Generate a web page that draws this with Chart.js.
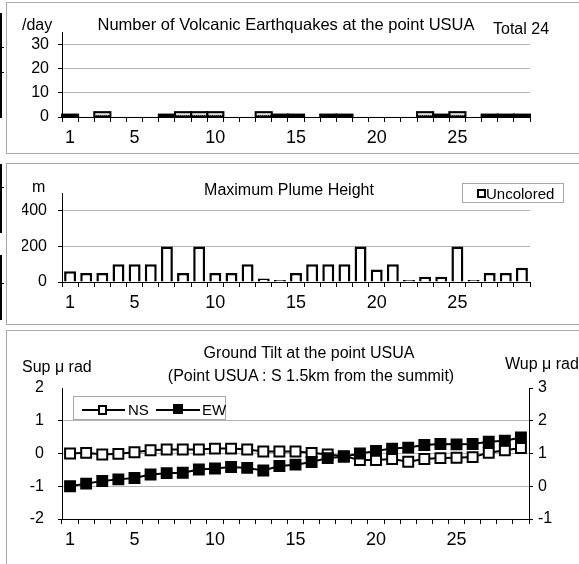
<!DOCTYPE html>
<html>
<head>
<meta charset="utf-8">
<title>USUA</title>
<script src="https://cdn.jsdelivr.net/npm/chart.js@4.4.1/dist/chart.umd.min.js"></script>
<style>
  body { margin:0; width:579px; height:564px; overflow:hidden; background:#fff; position:relative;
         font-family:"Liberation Sans", Arial, sans-serif; color:#000; }
  .panel { position:absolute; left:6px; width:590px; box-sizing:border-box; border:1px solid #a8a8a8; }
  .cut { position:absolute; left:0; width:2px; background:#000; }
  .nub { position:absolute; left:0; width:4px; height:1px; background:#000; }
  canvas { position:absolute; left:0; }
  .t { position:absolute; white-space:nowrap; font-size:16px; line-height:16px; }
  .c { transform:translateX(-50%); }
  .lg { position:absolute; background:#fff; border:1px solid #a8a8a8; box-sizing:border-box; font-size:15px; line-height:15px; }
  .lg span { position:absolute; }
</style>
</head>
<body>
<div class="panel" style="top:2px;height:152px"></div>
<div class="panel" style="top:163px;height:162px"></div>
<div class="panel" style="top:330px;height:250px"></div>

<div class="cut" style="top:13px;height:105px"></div>
<div class="nub" style="top:47px"></div>
<div class="nub" style="top:72px"></div>
<div class="cut" style="top:164px;height:69px"></div>
<div class="nub" style="top:187px"></div>
<div class="cut" style="top:255px;height:65px"></div>
<div class="nub" style="top:283px"></div>

<canvas id="quakes" width="579" height="160" style="top:0"></canvas>
<canvas id="plume" width="579" height="165" style="top:160px"></canvas>
<canvas id="tilt" width="579" height="239" style="top:325px"></canvas>

<div class="t" style="left:22px;top:17px">/day</div>
<div class="t c" style="left:286px;top:16px;font-size:16.5px">Number of Volcanic Earthquakes at the point USUA</div>
<div class="t" style="left:493px;top:21px">Total 24</div>

<div class="t" style="left:32px;top:179px">m</div>
<div class="t c" style="left:289px;top:182px">Maximum Plume Height</div>
<div class="lg" style="left:462px;top:183px;width:102px;height:20px">
  <span style="left:14px;top:5px;width:5px;height:5px;border:2px solid #000"></span>
  <span style="left:23px;top:2px">Uncolored</span>
</div>

<div class="t" style="left:22px;top:359px">Sup μ rad</div>
<div class="t" style="left:505px;top:356px">Wup μ rad</div>
<div class="t c" style="left:309px;top:345px">Ground Tilt at the point USUA</div>
<div class="t c" style="left:311px;top:368px">(Point USUA : S 1.5km from the summit)</div>
<div class="lg" style="left:73px;top:396px;width:153px;height:24px">
  <span style="left:8px;top:12px;width:43px;height:2px;background:#000"></span>
  <span style="left:24px;top:8px;width:5px;height:6px;border:2px solid #000;background:#fff"></span>
  <span style="left:54px;top:5px">NS</span>
  <span style="left:82px;top:12px;width:44px;height:2px;background:#000"></span>
  <span style="left:99px;top:7px;width:10px;height:10px;background:#000"></span>
  <span style="left:128px;top:5px">EW</span>
</div>

<script>
// days of the month
const days = [1,2,3,4,5,6,7,8,9,10,11,12,13,14,15,16,17,18,19,20,21,22,23,24,25,26,27,28,29];
const shownDays = [1,5,10,15,20,25];

// earthquakes per day
const quakeCounts = [1,0,2,0,0,0,1,2,2,2,0,0,2,1,1,0,1,1,0,0,0,0,2,1,2,0,1,1,1];

// plume height (m)
const plumeHeights = [60,50,50,100,100,100,200,50,200,50,50,100,20,0,50,100,100,100,200,70,100,0,30,30,200,0,50,50,80];

// tilt (micro radian)
const nsTilt = [0.0,0.02,-0.03,-0.01,0.04,0.1,0.12,0.12,0.12,0.15,0.15,0.12,0.06,0.06,0.06,0.02,-0.03,-0.08,-0.2,-0.2,-0.17,-0.25,-0.17,-0.14,-0.13,-0.11,0.02,0.1,0.17];
const ewTilt = [0.0,0.08,0.16,0.21,0.25,0.36,0.4,0.41,0.51,0.54,0.59,0.56,0.48,0.62,0.66,0.74,0.86,0.9,1.0,1.08,1.15,1.18,1.26,1.29,1.28,1.29,1.36,1.39,1.49];

Chart.defaults.font.family = '"Liberation Sans", Arial, sans-serif';
Chart.defaults.color = '#000';

const GRID = '#b4b4b4';

// x axis shared by the three panels
function dayAxis() {
    return {
        offset: true,
        grid: { offset: true, drawOnChartArea: false, tickLength: 5, tickColor: '#000' },
        border: { color: '#000', width: 1 },
        ticks: {
            autoSkip: false, maxRotation: 0, padding: 5, font: { size: 18 },
            callback: (v, i) => shownDays.includes(days[i]) ? String(days[i]) : ''
        },
        afterFit: s => { s.height = 30 }
    }
}

// left value axis, labels and grid only every `labelStep`
function valueAxis(min, max, step, labelStep, pad) {
    return {
        min: min, max: max,
        border: { color: '#000', width: 1 },
        ticks: {
            stepSize: step, padding: pad, font: { size: 16 },
            callback: v => (v % labelStep === 0) ? v : ''
        },
        grid: {
            tickLength: 4,
            color: c => (c.tick && c.tick.value % labelStep === 0 && c.tick.value > min && c.tick.value < max) ? GRID : 'transparent',
            tickColor: c => (c.tick && c.tick.value < max) ? '#000' : 'transparent'
        },
        afterFit: s => { s.width = 40 }
    }
}

// hatch fill for the earthquake bars
const pat = document.createElement('canvas')
pat.width = 4; pat.height = 3
const pc = pat.getContext('2d')
pc.fillStyle = '#dcdcdc'; pc.fillRect(0, 0, 4, 3)
pc.fillStyle = '#555'; pc.fillRect(0, 1, 1, 1); pc.fillRect(2, 1, 1, 1)
const hatch = pc.createPattern(pat, 'repeat')

// excel style outline, stroked on the bar edges
const outline = {
    id: 'outline',
    afterDatasetsDraw(chart) {
        const ctx = chart.ctx
        ctx.save()
        ctx.strokeStyle = '#000'
        ctx.lineWidth = 2
        chart.getDatasetMeta(0).data.forEach(bar => {
            const p = bar.getProps(['x', 'y', 'base', 'width'], true)
            if (p.base - p.y < 0.5) return
            ctx.strokeRect(p.x - p.width / 2, p.y, p.width, p.base - p.y)
        })
        ctx.restore()
    }
}

const base = { responsive: false, animation: false, events: [],
    plugins: { legend: { display: false }, tooltip: { enabled: false } } }

// number of earthquakes
new Chart(document.querySelector('#quakes'), {
    type: 'bar',
    data: {
        labels: days,
        datasets: [{
            data: quakeCounts,
            backgroundColor: hatch,
            borderWidth: 0,
            barPercentage: 1, categoryPercentage: 1
        }]
    },
    options: Object.assign({}, base, {
        layout: { padding: { left: 22, right: 49, top: 32, bottom: 13 } },
        scales: { x: dayAxis(), y: valueAxis(0, 35, 5, 10, 9) }
    }),
    plugins: [outline]
})

// plume height
new Chart(document.querySelector('#plume'), {
    type: 'bar',
    data: {
        labels: days,
        datasets: [{
            data: plumeHeights,
            backgroundColor: '#fff',
            borderColor: '#000',
            borderWidth: 2.5,
            inflateAmount: 0,
            minBarLength: 2,
            barPercentage: 0.74, categoryPercentage: 1
        }]
    },
    options: Object.assign({}, base, {
        layout: { padding: { left: 22, right: 49, top: 33, bottom: 13 } },
        scales: { x: dayAxis(), y: valueAxis(0, 500, 100, 200, 11) }
    })
})

// ground tilt, NS on the left axis and EW on the right one
const leftTilt = valueAxis(-2, 2, 1, 1, 14)
const rightTilt = {
    position: 'right', min: -1, max: 3,
    border: { color: '#000', width: 1 },
    ticks: { stepSize: 1, padding: 5, font: { size: 16 } },
    grid: { drawOnChartArea: false, tickLength: 4, tickColor: '#000' },
    afterFit: s => { s.width = 40 }
}

new Chart(document.querySelector('#tilt'), {
    type: 'line',
    data: {
        labels: days,
        datasets: [
            {
                label: 'NS', data: nsTilt, yAxisID: 'y', order: 2,
                borderColor: '#000', borderWidth: 2,
                pointStyle: 'rect', pointRadius: 7, pointBorderWidth: 2,
                pointBorderColor: '#000', pointBackgroundColor: '#fff'
            },
            {
                label: 'EW', data: ewTilt, yAxisID: 'y2', order: 1,
                borderColor: '#000', borderWidth: 2,
                pointStyle: 'rect', pointRadius: 7, pointBorderWidth: 2,
                pointBorderColor: '#000', pointBackgroundColor: '#000'
            }
        ]
    },
    options: Object.assign({}, base, {
        layout: { padding: { left: 22, right: 10, top: 63, bottom: 15 } },
        scales: { x: dayAxis(), y: leftTilt, y2: rightTilt }
    })
})
</script>
</body>
</html>
